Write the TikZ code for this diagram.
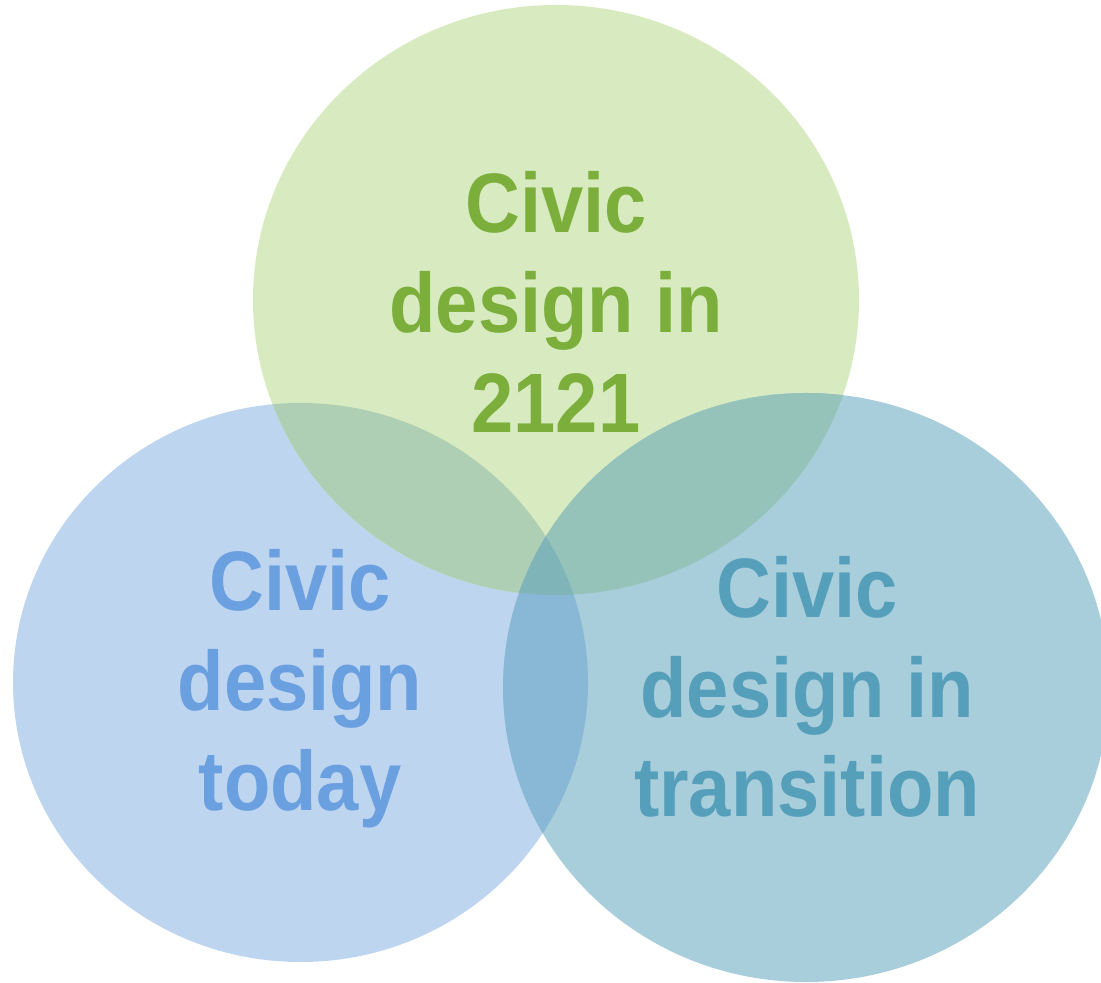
\documentclass[tikz,border=0pt]{standalone}
\usepackage{fontspec}
\usepackage{tikz}
\usetikzlibrary{positioning}
\newfontfamily\venlabelfont{Liberation Sans}[FakeStretch=0.9]

\definecolor{todayfill}{HTML}{BED5F0}
\definecolor{futurefill}{HTML}{D8EBC0}
\definecolor{transfill}{HTML}{A8CDDB}
\definecolor{futuretodayfill}{HTML}{AECFB4}
\definecolor{futuretransfill}{HTML}{95C3B9}
\definecolor{todaytransfill}{HTML}{88B8D5}
\definecolor{allfill}{HTML}{7FB5B8}
\definecolor{todaytext}{HTML}{6A9FE0}
\definecolor{futuretext}{HTML}{7BAE3A}
\definecolor{transtext}{HTML}{559FBA}

% the three sets
\newcommand{\todaypath}{(3.005,2.995) ellipse [x radius=2.875, y radius=2.795]}
\newcommand{\futurepath}{(5.56,6.82) ellipse [x radius=3.03, y radius=2.95]}
\newcommand{\transpath}{(8.06,2.945) ellipse [x radius=3.03, y radius=2.945]}

\begin{document}
\begin{tikzpicture}[every node/.style={inner sep=0pt,align=center},
    setlabel/.style={font=\venlabelfont\bfseries\fontsize{24}{28.4}\selectfont}]
	\useasboundingbox (0,0) rectangle (11.01,9.82);

	\fill[todayfill] \todaypath;
	\fill[futurefill] \futurepath;
	\fill[transfill] \transpath;

	\begin{scope}
		\clip \futurepath;
		\fill[futuretodayfill] \todaypath;
		\fill[futuretransfill] \transpath;
	\end{scope}
	\begin{scope}
		\clip \todaypath;
		\fill[todaytransfill] \transpath;
		\clip \transpath;
		\fill[allfill] \futurepath;
	\end{scope}

	\node[setlabel,text=futuretext] (future) at (5.56,6.80) {Civic\\design in\\2121};
	\node[setlabel,text=todaytext] (today) at (3.00,2.93) {Civic\\design\\today};
	\node[setlabel,text=transtext] (trans) at (8.07,2.95) {Civic\\design in\\transition};
\end{tikzpicture}
\end{document}
